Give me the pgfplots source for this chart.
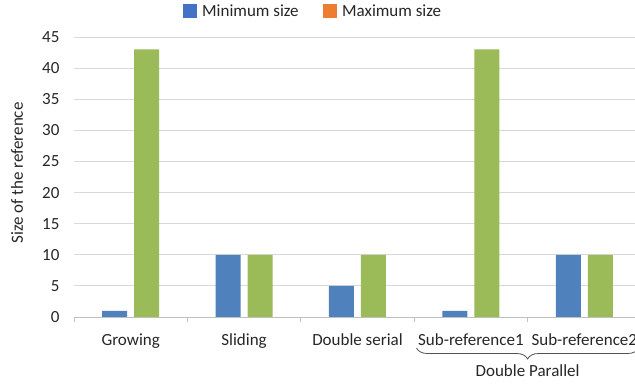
\documentclass[border=0pt]{standalone}
\usepackage{pgfplots}
\pgfplotsset{compat=1.18}
\usepackage{fontspec}
\setmainfont{Carlito}
\usetikzlibrary{decorations.pathreplacing}
\definecolor{barblue}{HTML}{4F81BD}
\definecolor{bargreen}{HTML}{9BBB59}
\definecolor{legblue}{HTML}{4472C4}
\definecolor{legorange}{HTML}{ED7D31}
\definecolor{gridgray}{HTML}{D9D9D9}
\definecolor{axgray}{HTML}{BFBFBF}
\definecolor{txt}{HTML}{262626}
\begin{document}
\begin{tikzpicture}[font=\fontsize{17pt}{20pt}\selectfont, x=1pt, y=1pt]
\path[use as bounding box] (0,0) rectangle (635,387);
\begin{axis}[
  at={(74pt,70pt)}, anchor=south west,
  scale only axis, width=567pt, height=280pt,
  xmin=-0.5, xmax=4.5, ymin=0, ymax=45,
  ytick={0,5,...,45},
  xtick={0,...,4},
  xticklabels={Growing,Sliding,Double serial,Sub-reference1,Sub-reference2},
  major tick length=0pt,
  extra x ticks={-0.5,0.5,1.5,2.5,3.5,4.5},
  extra x tick labels={},
  extra x tick style={major tick length=5pt, tick align=outside, tick style={draw=axgray, line width=0.8pt}},
  axis x line*=bottom, axis y line*=left,
  x axis line style={draw=axgray, line width=0.9pt, -},
  y axis line style={draw=none},
  ymajorgrids, grid style={draw=gridgray, line width=0.9pt},
  /pgf/number format/assume math mode=true,
  ticklabel style={text=txt},
  yticklabel style={xshift=-11pt},
  xticklabel style={anchor=base, yshift=-29pt},
  ylabel={Size of the reference},
  every axis y label/.style={at={([xshift=-57pt,yshift=4pt]rel axis cs:0,0.5)}, anchor=center, rotate=90, text=txt},
  ybar, bar width=25pt,
  clip=false,
  legend columns=2,
  legend style={at={(0.4215,1.093)}, anchor=center, draw=none, fill=none, text=txt,
    /tikz/every even column/.append style={column sep=22pt}},
]
\addplot[fill=barblue, draw=none, bar shift=-16pt, forget plot] coordinates {(0,1) (1,10) (2,5) (3,1) (4,10)};
\addplot[fill=bargreen, draw=none, bar shift=16pt, forget plot] coordinates {(0,43) (1,10) (2,10) (3,43) (4,10)};
\addlegendimage{legend image code/.code={\fill[legblue] (0pt,-6pt) rectangle (13pt,7pt); \path (17pt,0pt);}}
\addlegendentry{Minimum size}
\addlegendimage{legend image code/.code={\fill[legorange] (0pt,-6pt) rectangle (13pt,7pt); \path (17pt,0pt);}}
\addlegendentry{Maximum size}
\draw[txt!80, line width=0.8pt, decorate, decoration={brace, mirror, amplitude=11pt}]
  ([yshift=-31pt]axis cs:2.52,0) -- ([yshift=-31pt]axis cs:4.48,0);
\node[text=txt, anchor=base] at ([yshift=-60pt]axis cs:3.5,0) {Double Parallel};
\end{axis}
\end{tikzpicture}
\end{document}
